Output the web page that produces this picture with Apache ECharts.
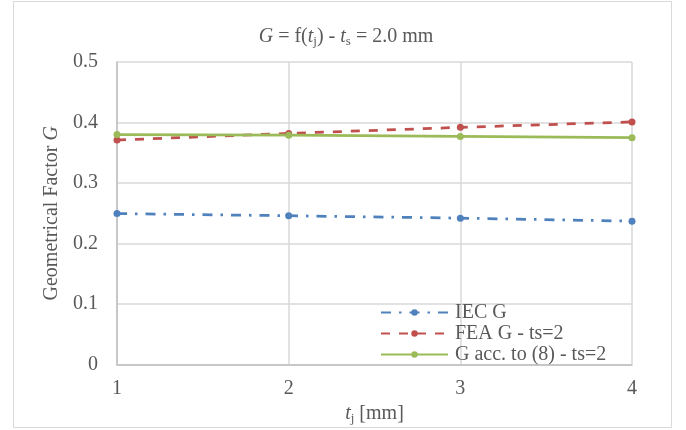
<!DOCTYPE html>
<html>
<head>
<meta charset="utf-8">
<script src="https://cdn.jsdelivr.net/npm/echarts@6/dist/echarts.min.js"></script>
<style>
html,body{margin:0;padding:0;background:#fff;}
#c{width:686px;height:430px;}
</style>
</head>
<body>
<div id="c"></div>
<script>
const tj = [1, 2, 3, 4];
const iecG = [0.2495, 0.246, 0.242, 0.237];
const feaG = [0.371, 0.382, 0.392, 0.401];
const accG = [0.380, 0.379, 0.377, 0.375];
const seriesNames = ['IEC G', 'FEA G - ts=2', 'G acc. to (8) - ts=2'];

const FONT = '"Liberation Serif", "Times New Roman", serif';
const TXT = '#595959';
const FS = 20;
const pair = (xs, ys) => xs.map((x, i) => [x, ys[i]]);
const rich = {
  n: {fontFamily: FONT, fontSize: FS, color: TXT, fontWeight: 'normal'},
  i: {fontFamily: FONT, fontSize: FS, fontStyle: 'italic', color: TXT, fontWeight: 'normal'},
  s: {fontFamily: FONT, fontSize: 13, color: TXT, fontWeight: 'normal', padding: [10, 0, 0, 0]}
};

const chart = echarts.init(document.getElementById('c'), null, {renderer: 'canvas'});
chart.setOption({
  animation: false,
  backgroundColor: '#fff',
  textStyle: {fontFamily: FONT, color: TXT},
  graphic: [{
    type: 'rect', shape: {x: 13.5, y: 1.5, width: 658, height: 426},
    style: {fill: 'none', stroke: '#d9d9d9', lineWidth: 1}, silent: true
  }],
  title: {
    text: '{i|G}{n| = f(}{i|t}{s|j}{n|) - }{i|t}{s|s}{n| = 2.0 mm}',
    left: 341, top: 20, textAlign: 'center',
    textStyle: {fontWeight: 'normal', rich: rich}
  },
  grid: {left: 117, right: 54, top: 62, bottom: 62, containLabel: false},
  legend: {
    orient: 'vertical', left: 380, top: 302, padding: 0,
    itemWidth: 67, itemHeight: 8, itemGap: 0,
    data: seriesNames,
    textStyle: {fontFamily: FONT, fontSize: FS, color: TXT, lineHeight: 21, padding: [0, 0, 0, 2]}
  },
  xAxis: {
    type: 'value', min: 1, max: 4, interval: 1,
    name: '{i|t}{s|j}{n| [mm]}', nameLocation: 'middle', nameGap: 30,
    nameTextStyle: {rich: rich},
    axisLine: {show: true, lineStyle: {color: '#bfbfbf', width: 1.5}},
    axisTick: {show: false},
    axisLabel: {fontFamily: FONT, fontSize: FS, color: TXT, margin: 14},
    splitLine: {show: true, lineStyle: {color: '#d9d9d9', width: 1.5}}
  },
  yAxis: {
    type: 'value', min: 0, max: 0.5, interval: 0.1,
    name: '{n|Geometrical Factor }{i|G}', nameLocation: 'middle', nameGap: 55,
    nameRotate: 90,
    nameTextStyle: {rich: rich},
    axisLine: {show: true, lineStyle: {color: '#bfbfbf', width: 1.5}},
    axisTick: {show: false},
    axisLabel: {fontFamily: FONT, fontSize: FS, color: TXT, margin: 19},
    splitLine: {show: true, lineStyle: {color: '#d9d9d9', width: 1.5}}
  },
  series: [
    {
      name: seriesNames[0], type: 'line', data: pair(tj, iecG),
      symbol: 'circle', symbolSize: 7,
      itemStyle: {color: '#4f81bd'},
      lineStyle: {color: '#4f81bd', width: 2.75, type: [10, 8, 2.5, 8]}
    },
    {
      name: seriesNames[1], type: 'line', data: pair(tj, feaG),
      symbol: 'circle', symbolSize: 7,
      itemStyle: {color: '#c0504d'},
      lineStyle: {color: '#c0504d', width: 2.75, type: [9, 9]}
    },
    {
      name: seriesNames[2], type: 'line', data: pair(tj, accG),
      symbol: 'circle', symbolSize: 7,
      itemStyle: {color: '#9bbb59'},
      lineStyle: {color: '#9bbb59', width: 2.75, type: 'solid'}
    }
  ]
});
</script>
</body>
</html>
